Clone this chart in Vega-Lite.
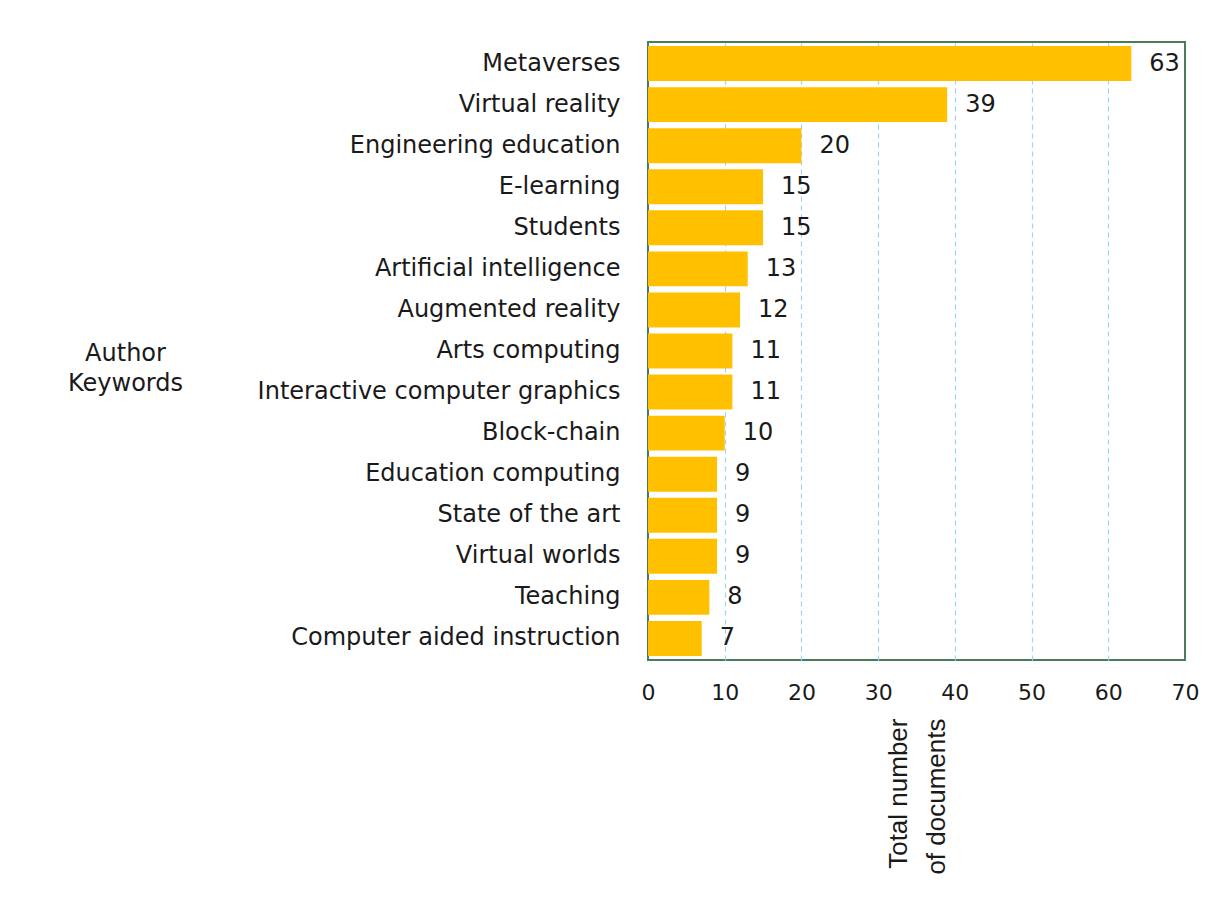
{
  "$schema": "https://vega.github.io/schema/vega-lite/v6.json",
  "autosize": "none",
  "width": 537,
  "height": 618,
  "padding": {"left": 648, "top": 42, "right": 38, "bottom": 244},
  "background": "white",
  "config": {
    "view": {"stroke": "#4a7d57", "strokeWidth": 2},
    "font": "DejaVu Sans"
  },
  "data": {
    "values": [
      {"keyword": "Metaverses", "documents": 63},
      {"keyword": "Virtual reality", "documents": 39},
      {"keyword": "Engineering education", "documents": 20},
      {"keyword": "E-learning", "documents": 15},
      {"keyword": "Students", "documents": 15},
      {"keyword": "Artificial intelligence", "documents": 13},
      {"keyword": "Augmented reality", "documents": 12},
      {"keyword": "Arts computing", "documents": 11},
      {"keyword": "Interactive computer graphics", "documents": 11},
      {"keyword": "Block-chain", "documents": 10},
      {"keyword": "Education computing", "documents": 9},
      {"keyword": "State of the art", "documents": 9},
      {"keyword": "Virtual worlds", "documents": 9},
      {"keyword": "Teaching", "documents": 8},
      {"keyword": "Computer aided instruction", "documents": 7}
    ]
  },
  "encoding": {
    "y": {
      "field": "keyword",
      "type": "nominal",
      "sort": null,
      "scale": {"paddingInner": 0.15, "paddingOuter": 0.1},
      "axis": {
        "title": ["Author", "Keywords"],
        "titleAngle": 0,
        "titleAlign": "center",
        "titleBaseline": "middle",
        "titleX": -523,
        "titleY": 311,
        "titleFont": "DejaVu Sans",
        "titleFontSize": 24,
        "titleFontWeight": "normal",
        "titleColor": "#1a1a1a",
        "titleLineHeight": 30,
        "ticks": false,
        "domain": false,
        "labelPadding": 28,
        "labelFont": "DejaVu Sans",
        "labelFontSize": 24,
        "labelColor": "#1a1a1a",
        "labelLimit": 600
      }
    },
    "x": {
      "field": "documents",
      "type": "quantitative",
      "scale": {"domain": [0, 70], "nice": false},
      "axis": {
        "values": [0, 10, 20, 30, 40, 50, 60, 70],
        "title": ["Total number", "of documents"],
        "titleAngle": 270,
        "titleAlign": "right",
        "titleBaseline": "middle",
        "titleX": 250,
        "titleY": 58,
        "titleFont": "Liberation Sans",
        "titleFontSize": 26,
        "titleFontWeight": "normal",
        "titleColor": "#1a1a1a",
        "titleLineHeight": 38,
        "ticks": false,
        "domain": false,
        "labelFlush": false,
        "labelPadding": 22,
        "labelFont": "DejaVu Sans",
        "labelFontSize": 22,
        "labelColor": "#1a1a1a",
        "grid": true,
        "gridColor": "#9fd3ef",
        "gridDash": [5, 4],
        "gridWidth": 1.2,
        "gridOpacity": {"condition": {"test": "datum.value == 0 || datum.value == 70", "value": 0}, "value": 1}
      }
    }
  },
  "layer": [
    {"mark": {"type": "bar", "color": "#FFC000"}},
    {
      "mark": {"type": "text", "align": "left", "baseline": "middle", "dx": 18, "font": "DejaVu Sans", "fontSize": 24, "color": "#1a1a1a"},
      "encoding": {"text": {"field": "documents", "type": "quantitative"}}
    }
  ]
}
